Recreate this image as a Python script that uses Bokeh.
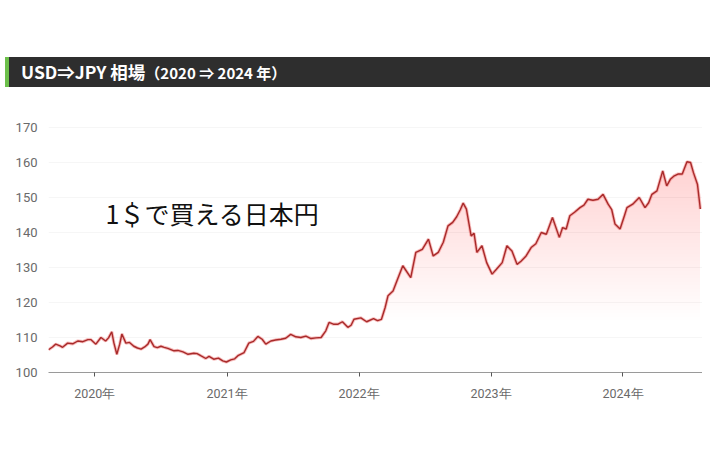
import numpy as np
import pandas as pd
from bokeh.plotting import figure
from bokeh.layouts import column
from bokeh.models import Div, Spacer, Range1d, FixedTicker, DatetimeTickFormatter, Label
from bokeh.embed import file_html
from bokeh.resources import INLINE

# USD/JPY (roughly every 2 weeks)
dates = [
    "2019-08-26", "2019-09-06", "2019-09-15", "2019-09-27", "2019-10-04", "2019-10-18",
    "2019-11-01", "2019-11-15", "2019-11-29", "2019-12-13", "2019-12-21",
    "2020-01-04", "2020-01-18", "2020-01-31", "2020-02-08", "2020-02-17", "2020-02-23",
    "2020-03-02", "2020-03-10", "2020-03-16", "2020-03-27", "2020-04-06", "2020-04-18",
    "2020-04-28", "2020-05-08", "2020-05-18", "2020-05-27", "2020-06-02", "2020-06-13",
    "2020-06-22", "2020-07-02", "2020-07-11", "2020-07-21", "2020-08-07", "2020-08-18",
    "2020-09-01", "2020-09-15", "2020-10-01", "2020-10-10", "2020-10-20", "2020-11-03",
    "2020-11-12", "2020-11-25", "2020-12-08", "2020-12-20", "2020-12-30",
    "2021-01-11", "2021-01-22", "2021-01-31", "2021-02-17", "2021-03-02", "2021-03-15",
    "2021-03-27", "2021-04-08", "2021-04-18", "2021-05-02", "2021-05-15", "2021-05-30",
    "2021-06-12", "2021-06-26", "2021-07-10", "2021-07-24", "2021-08-07", "2021-08-21",
    "2021-09-04", "2021-09-18", "2021-10-01", "2021-10-10", "2021-10-22", "2021-11-04",
    "2021-11-16", "2021-12-01", "2021-12-10", "2021-12-18",
    "2022-01-06", "2022-01-22", "2022-02-10", "2022-02-21", "2022-03-04", "2022-03-14",
    "2022-03-22", "2022-04-05", "2022-04-18", "2022-05-02", "2022-05-24", "2022-06-07",
    "2022-06-25", "2022-07-12", "2022-07-25", "2022-08-08", "2022-08-22", "2022-09-04",
    "2022-09-17", "2022-09-28", "2022-10-08", "2022-10-16", "2022-10-25", "2022-11-07",
    "2022-11-15", "2022-11-23", "2022-12-07", "2022-12-20",
    "2023-01-04", "2023-01-16", "2023-02-01", "2023-02-14", "2023-02-28", "2023-03-14",
    "2023-03-25", "2023-04-08", "2023-04-22", "2023-05-05", "2023-05-20", "2023-06-03",
    "2023-06-20", "2023-07-09", "2023-07-18", "2023-07-28", "2023-08-07", "2023-08-20",
    "2023-09-04", "2023-09-15", "2023-09-26", "2023-10-10", "2023-10-24", "2023-11-07",
    "2023-11-21", "2023-12-01", "2023-12-10", "2023-12-24",
    "2024-01-05", "2024-01-12", "2024-01-28", "2024-02-15", "2024-03-02", "2024-03-12",
    "2024-03-21", "2024-04-04", "2024-04-20", "2024-05-01", "2024-05-11", "2024-05-22",
    "2024-06-01", "2024-06-13", "2024-06-26", "2024-07-06", "2024-07-14", "2024-07-25",
    "2024-08-02",
]
usd_jpy = [
    106.5, 107.3, 108.1, 107.6, 107.2, 108.4,
    108.2, 109.0, 108.8, 109.4, 109.4,
    108.1, 110.0, 109.0, 109.9, 111.6, 108.4,
    105.2, 108.1, 111.0, 108.4, 108.6, 107.5,
    107.0, 106.7, 107.3, 108.1, 109.4, 107.4,
    107.1, 107.5, 107.2, 106.9, 106.2, 106.3,
    105.9, 105.2, 105.5, 105.4, 104.8, 104.0,
    104.6, 103.8, 104.1, 103.3, 103.0,
    103.6, 103.9, 104.8, 105.7, 108.4, 108.9,
    110.3, 109.5, 108.1, 109.0, 109.3, 109.5,
    109.8, 110.9, 110.2, 110.0, 110.4, 109.7,
    109.9, 110.0, 111.9, 114.3, 113.8, 113.8,
    114.5, 112.9, 113.5, 115.2,
    115.6, 114.5, 115.4, 114.8, 115.2, 118.5,
    121.9, 123.3, 126.8, 130.5, 127.1, 134.3,
    135.2, 138.1, 133.3, 134.3, 137.2, 141.9,
    142.9, 144.5, 146.5, 148.4, 146.7, 139.0,
    139.8, 134.3, 136.2, 131.4,
    128.1, 129.5, 131.4, 136.2, 134.7, 130.9,
    131.8, 133.3, 135.7, 136.8, 140.0, 139.5,
    144.3, 138.6, 141.4, 141.0, 144.8, 145.8,
    147.1, 147.8, 149.5, 149.2, 149.5, 150.9,
    148.1, 146.5, 142.4, 141.0,
    144.8, 147.1, 148.1, 150.0, 147.1, 148.5,
    150.9, 151.9, 157.6, 153.3, 155.2, 156.2,
    156.7, 156.7, 160.2, 160.0, 157.1, 153.8,
    146.7,
]
year_ticks = ["2020-01-01", "2021-01-01", "2022-01-01", "2023-01-01", "2024-01-01"]
y_ticks = [100, 110, 120, 130, 140, 150, 160, 170]

x = pd.to_datetime(dates)
vals = np.array(usd_jpy)

p = figure(width=702, height=359, x_axis_type="datetime",
           output_backend="svg", toolbar_location=None,
           x_range=Range1d(pd.Timestamp("2019-08-26"), pd.Timestamp("2024-08-08")),
           y_range=Range1d(100, 175.14),
           min_border_left=48, min_border_right=0, min_border_top=22, min_border_bottom=74)
p.outline_line_color = None
p.background_fill_color = "white"
p.border_fill_color = "white"

# vertical gradient under the line, faked with stacked translucent bands
for lv in np.arange(115, 163, 1):
    p.varea(x=x, y1=lv, y2=np.maximum(vals, lv), fill_color="#dc5050", fill_alpha=0.0062)

p.line(x, vals, line_color="#ee6a6a", line_width=3.2, line_alpha=0.45)
p.line(x, vals, line_color="#a82a2a", line_width=1.4)

p.add_layout(Label(x=pd.Timestamp("2020-01-31"), y=145.5, text="1＄で買える日本円",
                   text_font="Noto Sans CJK JP", text_font_size="25px",
                   text_color="#111111", text_baseline="middle"))

p.xaxis.ticker = FixedTicker(ticks=[pd.Timestamp(t).value // 10**6 for t in year_ticks])
p.xaxis.formatter = DatetimeTickFormatter(years="%Y年", months="%Y年", days="%Y年",
                                          hours="%Y年", minutes="%Y年", seconds="%Y年",
                                          milliseconds="%Y年", microseconds="%Y年")
p.xaxis.axis_line_color = "#9a9a9a"
p.xaxis.major_tick_line_color = "#555555"
p.xaxis.major_tick_in = 0
p.xaxis.major_tick_out = 4
p.xaxis.minor_tick_line_color = None
p.xaxis.major_label_text_font = "Roboto"
p.xaxis.major_label_text_font_size = "12.5px"
p.xaxis.major_label_text_color = "#6a6a6a"
p.xaxis.major_label_standoff = 9

p.yaxis.ticker = FixedTicker(ticks=y_ticks)
p.yaxis.axis_line_color = None
p.yaxis.major_tick_line_color = None
p.yaxis.minor_tick_line_color = None
p.yaxis.major_label_text_font = "Roboto"
p.yaxis.major_label_text_font_size = "13px"
p.yaxis.major_label_text_color = "#6a6a6a"
p.yaxis.major_label_standoff = 5

p.xgrid.grid_line_color = None
p.ygrid.ticker = FixedTicker(ticks=y_ticks[1:])
p.ygrid.grid_line_color = "#f6f6f6"

bar = Div(width=705, height=30, margin=(0, 0, 0, 5), text=(
    '<div style="width:705px;height:30px;box-sizing:border-box;background:#2e2e2e;'
    'border-left:4px solid #6cbf4a;padding-left:12px;line-height:30px;color:#ffffff;'
    'font-family:\'Noto Sans CJK JP\';font-weight:bold;font-size:17.5px;white-space:nowrap">'
    'USD⇒JPY 相場<span style="font-size:15px">（2020 ⇒ 2024 年）</span></div>'))

layout = column(Spacer(height=57), bar, p, spacing=0)
open("out.html", "w").write(file_html(layout, INLINE))
